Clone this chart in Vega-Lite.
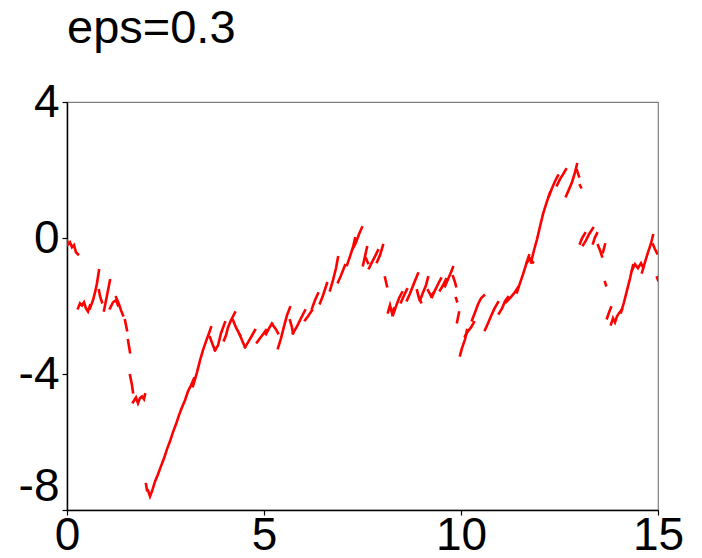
{
  "$schema": "https://vega.github.io/schema/vega-lite/v6.json",
  "autosize": "none",
  "width": 591,
  "height": 408,
  "padding": {"left": 67, "top": 102, "right": 44, "bottom": 48},
  "background": "white",
  "config": {
    "view": {"stroke": "#7f7f7f", "strokeWidth": 1.2},
    "font": "Liberation Sans"
  },
  "title": {
    "text": "eps=0.3",
    "anchor": "start",
    "frame": "group",
    "font": "Liberation Sans",
    "fontSize": 47,
    "fontWeight": "normal",
    "color": "black",
    "baseline": "alphabetic",
    "offset": -11
  },
  "data": {
    "values": [
      {"s":1,"t":0,"v":-0.07},{"s":1,"t":0.025,"v":-0.19},{"s":1,"t":0.076,"v":-0.13},{"s":1,"t":0.127,"v":-0.27},{"s":1,"t":0.178,"v":-0.21},{"s":1,"t":0.228,"v":-0.42},{"s":1,"t":0.279,"v":-0.48},
      {"s":2,"t":0.279,"v":-2.07},{"s":2,"t":0.330,"v":-1.92},{"s":2,"t":0.381,"v":-1.98},{"s":2,"t":0.431,"v":-1.89},{"s":2,"t":0.482,"v":-2.07},{"s":2,"t":0.533,"v":-2.16},{"s":2,"t":0.584,"v":-1.98},
      {"s":3,"t":0.584,"v":-2.07},{"s":3,"t":0.660,"v":-1.83},{"s":3,"t":0.711,"v":-1.60},{"s":3,"t":0.761,"v":-1.33},{"s":3,"t":0.812,"v":-0.95},
      {"s":4,"t":0.812,"v":-1.54},{"s":4,"t":0.838,"v":-1.71},{"s":4,"t":0.888,"v":-1.89},
      {"s":5,"t":0.939,"v":-2.13},{"s":5,"t":1.015,"v":-1.69},{"s":5,"t":1.091,"v":-1.24},
      {"s":6,"t":1.091,"v":-2.07},{"s":6,"t":1.168,"v":-1.89},{"s":6,"t":1.244,"v":-1.83},{"s":6,"t":1.294,"v":-1.98},
      {"s":7,"t":1.244,"v":-1.74},{"s":7,"t":1.320,"v":-1.95},{"s":7,"t":1.371,"v":-2.13},{"s":7,"t":1.421,"v":-2.27},
      {"s":8,"t":1.472,"v":-2.42},{"s":8,"t":1.523,"v":-2.71},
      {"s":9,"t":1.548,"v":-3.01},{"s":9,"t":1.599,"v":-3.36},
      {"s":10,"t":1.599,"v":-4.04},{"s":10,"t":1.650,"v":-4.33},{"s":10,"t":1.675,"v":-4.54},
      {"s":11,"t":1.675,"v":-4.83},{"s":11,"t":1.751,"v":-4.69},{"s":11,"t":1.802,"v":-4.86},{"s":11,"t":1.853,"v":-4.71},{"s":11,"t":1.904,"v":-4.66},{"s":11,"t":1.954,"v":-4.74},{"s":11,"t":1.980,"v":-4.60},
      {"s":12,"t":2.005,"v":-7.24},{"s":12,"t":2.030,"v":-7.42},
      {"s":13,"t":2.056,"v":-7.42},{"s":13,"t":2.107,"v":-7.60},{"s":13,"t":2.157,"v":-7.45},{"s":13,"t":2.234,"v":-7.16},{"s":13,"t":2.310,"v":-6.95},{"s":13,"t":2.386,"v":-6.71},{"s":13,"t":2.462,"v":-6.48},{"s":13,"t":2.538,"v":-6.21},{"s":13,"t":2.614,"v":-5.98},{"s":13,"t":2.690,"v":-5.71},{"s":13,"t":2.766,"v":-5.48},{"s":13,"t":2.843,"v":-5.21},{"s":13,"t":2.919,"v":-4.98},{"s":13,"t":2.995,"v":-4.77},{"s":13,"t":3.071,"v":-4.51},{"s":13,"t":3.147,"v":-4.33},{"s":13,"t":3.223,"v":-4.13},
      {"s":14,"t":3.198,"v":-4.36},{"s":14,"t":3.299,"v":-3.95},{"s":14,"t":3.376,"v":-3.60},{"s":14,"t":3.452,"v":-3.30},{"s":14,"t":3.528,"v":-3.04},{"s":14,"t":3.604,"v":-2.80},{"s":14,"t":3.655,"v":-2.63},
      {"s":15,"t":3.629,"v":-2.92},{"s":15,"t":3.706,"v":-3.16},{"s":15,"t":3.756,"v":-3.30},
      {"s":16,"t":3.756,"v":-3.30},{"s":16,"t":3.832,"v":-3.16},{"s":16,"t":3.909,"v":-2.80},{"s":16,"t":4.010,"v":-2.48},
      {"s":17,"t":3.985,"v":-3.01},{"s":17,"t":4.036,"v":-2.86},{"s":17,"t":4.086,"v":-2.63},{"s":17,"t":4.162,"v":-2.42},{"s":17,"t":4.264,"v":-2.19},
      {"s":18,"t":4.213,"v":-2.42},{"s":18,"t":4.289,"v":-2.63},{"s":18,"t":4.391,"v":-2.86},
      {"s":19,"t":4.391,"v":-2.86},{"s":19,"t":4.442,"v":-3.01},{"s":19,"t":4.518,"v":-3.21},
      {"s":20,"t":4.518,"v":-3.21},{"s":20,"t":4.594,"v":-3.07},{"s":20,"t":4.670,"v":-2.92},{"s":20,"t":4.772,"v":-2.71},
      {"s":21,"t":4.822,"v":-3.07},{"s":21,"t":4.898,"v":-2.95},{"s":21,"t":4.975,"v":-2.83},{"s":21,"t":5.051,"v":-2.71},
      {"s":22,"t":5.051,"v":-2.83},{"s":22,"t":5.127,"v":-2.66},{"s":22,"t":5.203,"v":-2.51},
      {"s":23,"t":5.228,"v":-2.57},{"s":23,"t":5.305,"v":-2.69},{"s":23,"t":5.355,"v":-2.80},
      {"s":24,"t":5.355,"v":-3.24},{"s":24,"t":5.431,"v":-2.95},{"s":24,"t":5.508,"v":-2.60},{"s":24,"t":5.584,"v":-2.27},{"s":24,"t":5.660,"v":-2.04},
      {"s":25,"t":5.660,"v":-2.42},{"s":25,"t":5.711,"v":-2.63},{"s":25,"t":5.736,"v":-2.80},
      {"s":26,"t":5.736,"v":-2.80},{"s":26,"t":5.838,"v":-2.60},{"s":26,"t":5.939,"v":-2.36},{"s":26,"t":6.041,"v":-2.13},
      {"s":27,"t":6.041,"v":-2.42},{"s":27,"t":6.117,"v":-2.30},{"s":27,"t":6.218,"v":-2.13},
      {"s":28,"t":6.218,"v":-2.07},{"s":28,"t":6.294,"v":-1.83},{"s":28,"t":6.371,"v":-1.63},
      {"s":29,"t":6.421,"v":-1.92},{"s":29,"t":6.497,"v":-1.69},{"s":29,"t":6.599,"v":-1.33},
      {"s":30,"t":6.675,"v":-1.54},{"s":30,"t":6.751,"v":-1.24},{"s":30,"t":6.827,"v":-0.89},{"s":30,"t":6.878,"v":-0.57},
      {"s":31,"t":6.878,"v":-1.30},{"s":31,"t":6.954,"v":-1.10},{"s":31,"t":7.056,"v":-0.80},
      {"s":32,"t":7.107,"v":-0.80},{"s":32,"t":7.183,"v":-0.54},{"s":32,"t":7.259,"v":-0.27},{"s":32,"t":7.310,"v":-0.01},
      {"s":33,"t":7.259,"v":-0.30},{"s":33,"t":7.335,"v":-0.13},{"s":33,"t":7.411,"v":0.11},{"s":33,"t":7.487,"v":0.31},
      {"s":34,"t":7.513,"v":-0.80},{"s":34,"t":7.563,"v":-0.54},{"s":34,"t":7.614,"v":-0.27},
      {"s":35,"t":7.589,"v":-0.60},{"s":35,"t":7.640,"v":-0.74},
      {"s":36,"t":7.665,"v":-0.89},{"s":36,"t":7.741,"v":-0.71},{"s":36,"t":7.817,"v":-0.54},{"s":36,"t":7.893,"v":-0.36},
      {"s":37,"t":7.868,"v":-0.71},{"s":37,"t":7.944,"v":-0.51},{"s":37,"t":8.020,"v":-0.21},
      {"s":38,"t":8.071,"v":-1.16},{"s":38,"t":8.122,"v":-1.42},
      {"s":39,"t":8.147,"v":-2.19},{"s":39,"t":8.198,"v":-1.98},{"s":39,"t":8.249,"v":-2.21},{"s":39,"t":8.299,"v":-2.07},
      {"s":40,"t":8.274,"v":-2.27},{"s":40,"t":8.350,"v":-2.01},{"s":40,"t":8.426,"v":-1.77},{"s":40,"t":8.503,"v":-1.60},
      {"s":41,"t":8.477,"v":-1.89},{"s":41,"t":8.553,"v":-1.69},{"s":41,"t":8.629,"v":-1.51},
      {"s":42,"t":8.629,"v":-1.83},{"s":42,"t":8.706,"v":-1.63},{"s":42,"t":8.807,"v":-1.33},{"s":42,"t":8.909,"v":-1.04},
      {"s":43,"t":8.883,"v":-1.54},{"s":43,"t":8.934,"v":-1.77},{"s":43,"t":8.985,"v":-1.89},
      {"s":44,"t":8.960,"v":-1.83},{"s":44,"t":9.036,"v":-1.60},{"s":44,"t":9.112,"v":-1.39},{"s":44,"t":9.163,"v":-1.16},
      {"s":45,"t":9.163,"v":-1.54},{"s":45,"t":9.239,"v":-1.71},{"s":45,"t":9.289,"v":-1.63},
      {"s":46,"t":9.264,"v":-1.74},{"s":46,"t":9.340,"v":-1.54},{"s":46,"t":9.416,"v":-1.36},{"s":46,"t":9.492,"v":-1.19},
      {"s":47,"t":9.467,"v":-1.54},{"s":47,"t":9.543,"v":-1.39},{"s":47,"t":9.619,"v":-1.21},
      {"s":48,"t":9.594,"v":-1.42},{"s":48,"t":9.670,"v":-1.21},{"s":48,"t":9.746,"v":-1.01},{"s":48,"t":9.797,"v":-0.86},
      {"s":49,"t":9.797,"v":-1.13},{"s":49,"t":9.848,"v":-1.30},{"s":49,"t":9.873,"v":-1.42},
      {"s":50,"t":9.873,"v":-1.77},{"s":50,"t":9.899,"v":-1.86},
      {"s":51,"t":9.899,"v":-2.48},{"s":51,"t":9.949,"v":-2.19},
      {"s":52,"t":9.975,"v":-3.45},{"s":52,"t":10.025,"v":-3.24},{"s":52,"t":10.102,"v":-2.98},{"s":52,"t":10.152,"v":-2.71},
      {"s":53,"t":10.102,"v":-2.89},{"s":53,"t":10.178,"v":-2.74},{"s":53,"t":10.254,"v":-2.63},{"s":53,"t":10.330,"v":-2.48},
      {"s":54,"t":10.279,"v":-2.42},{"s":54,"t":10.355,"v":-2.19},{"s":54,"t":10.432,"v":-1.95},{"s":54,"t":10.508,"v":-1.77},{"s":54,"t":10.584,"v":-1.69},
      {"s":55,"t":10.609,"v":-2.71},{"s":55,"t":10.685,"v":-2.51},{"s":55,"t":10.761,"v":-2.30},{"s":55,"t":10.838,"v":-2.10},{"s":55,"t":10.939,"v":-1.89},
      {"s":56,"t":10.964,"v":-2.22},{"s":56,"t":11.041,"v":-2.07},{"s":56,"t":11.117,"v":-1.86},{"s":56,"t":11.193,"v":-1.74},
      {"s":57,"t":11.142,"v":-1.89},{"s":57,"t":11.244,"v":-1.77},{"s":57,"t":11.345,"v":-1.63},{"s":57,"t":11.447,"v":-1.45},
      {"s":58,"t":11.421,"v":-1.60},{"s":58,"t":11.497,"v":-1.33},{"s":58,"t":11.574,"v":-1.07},{"s":58,"t":11.650,"v":-0.78},{"s":58,"t":11.726,"v":-0.51},
      {"s":59,"t":11.675,"v":-0.72},{"s":59,"t":11.751,"v":-0.60},{"s":59,"t":11.827,"v":-0.72},
      {"s":60,"t":11.777,"v":-0.72},{"s":60,"t":11.853,"v":-0.36},{"s":60,"t":11.929,"v":-0.04},{"s":60,"t":12.005,"v":0.34},{"s":60,"t":12.081,"v":0.70},{"s":60,"t":12.157,"v":0.99},{"s":60,"t":12.259,"v":1.34},
      {"s":61,"t":12.233,"v":1.23},{"s":61,"t":12.310,"v":1.46},{"s":61,"t":12.386,"v":1.67},{"s":61,"t":12.462,"v":1.84},
      {"s":62,"t":12.437,"v":1.55},{"s":62,"t":12.513,"v":1.73},{"s":62,"t":12.589,"v":1.87},{"s":62,"t":12.665,"v":2.02},
      {"s":63,"t":12.665,"v":1.23},{"s":63,"t":12.741,"v":1.43},{"s":63,"t":12.817,"v":1.64},{"s":63,"t":12.893,"v":1.93},{"s":63,"t":12.944,"v":2.17},
      {"s":64,"t":12.944,"v":1.99},{"s":64,"t":12.995,"v":1.81},
      {"s":65,"t":13.020,"v":1.55},{"s":65,"t":13.046,"v":1.49},
      {"s":66,"t":13.020,"v":-0.16},{"s":66,"t":13.071,"v":-0.01},{"s":66,"t":13.147,"v":0.14},
      {"s":67,"t":13.097,"v":-0.21},{"s":67,"t":13.173,"v":-0.07},{"s":67,"t":13.249,"v":0.11},{"s":67,"t":13.350,"v":0.29},
      {"s":68,"t":13.350,"v":-0.16},{"s":68,"t":13.401,"v":0.02},{"s":68,"t":13.452,"v":0.14},
      {"s":69,"t":13.477,"v":-0.21},{"s":69,"t":13.528,"v":-0.36},{"s":69,"t":13.579,"v":-0.54},
      {"s":70,"t":13.604,"v":-0.42},{"s":70,"t":13.655,"v":-0.19},
      {"s":71,"t":13.655,"v":-1.30},{"s":71,"t":13.680,"v":-1.39},
      {"s":72,"t":13.706,"v":-2.36},{"s":72,"t":13.756,"v":-2.19},{"s":72,"t":13.807,"v":-2.04},
      {"s":73,"t":13.807,"v":-2.54},{"s":73,"t":13.858,"v":-2.36},{"s":73,"t":13.909,"v":-2.48},{"s":73,"t":13.959,"v":-2.30},{"s":73,"t":14.010,"v":-2.21},{"s":73,"t":14.086,"v":-2.10},
      {"s":74,"t":14.061,"v":-2.19},{"s":74,"t":14.137,"v":-1.89},{"s":74,"t":14.213,"v":-1.54},{"s":74,"t":14.289,"v":-1.19},{"s":74,"t":14.365,"v":-0.80},
      {"s":75,"t":14.340,"v":-0.95},{"s":75,"t":14.416,"v":-0.77},{"s":75,"t":14.492,"v":-0.89},{"s":75,"t":14.569,"v":-0.74},{"s":75,"t":14.619,"v":-0.86},
      {"s":76,"t":14.594,"v":-1.01},{"s":76,"t":14.670,"v":-0.71},{"s":76,"t":14.746,"v":-0.42},{"s":76,"t":14.822,"v":-0.16},{"s":76,"t":14.873,"v":0.08},
      {"s":77,"t":14.873,"v":-0.19},{"s":77,"t":14.924,"v":-0.33},{"s":77,"t":14.975,"v":-0.45},
      {"s":78,"t":14.975,"v":-1.16},{"s":78,"t":15.0,"v":-1.24}
    ]
  },
  "mark": {"type": "line", "color": "#ff0000", "strokeWidth": 2.6, "strokeCap": "square", "clip": true},
  "encoding": {
    "x": {
      "field": "t",
      "type": "quantitative",
      "scale": {"domain": [0, 15], "nice": false, "zero": false},
      "axis": {
        "title": null,
        "values": [0, 5, 10, 15],
        "grid": false,
        "labelFlush": false,
        "labelOverlap": false,
        "labelFont": "Liberation Sans",
        "labelFontSize": 46,
        "labelColor": "black",
        "labelBaseline": "top",
        "labelPadding": -2,
        "tickSize": 5,
        "tickColor": "black",
        "tickWidth": 1.2,
        "domainColor": "black",
        "domainWidth": 1.5
      }
    },
    "y": {
      "field": "v",
      "type": "quantitative",
      "scale": {"domain": [-8, 4], "nice": false, "zero": false},
      "axis": {
        "title": null,
        "values": [-8, -4, 0, 4],
        "grid": false,
        "labelOverlap": false,
        "labelFlush": false,
        "labelExpr": "datum.value < 0 ? '-' + abs(datum.value) : '' + datum.value",
        "labelFont": "Liberation Sans",
        "labelFontSize": 46,
        "labelColor": "black",
        "labelPadding": 3,
        "labelBaseline": {"condition": {"test": "datum.value === -8", "value": "bottom"}, "value": "middle"},
        "tickSize": 5,
        "tickColor": "black",
        "tickWidth": 1.2,
        "domainColor": "black",
        "domainWidth": 1.5
      }
    },
    "detail": {"field": "s", "type": "nominal"}
  }
}
